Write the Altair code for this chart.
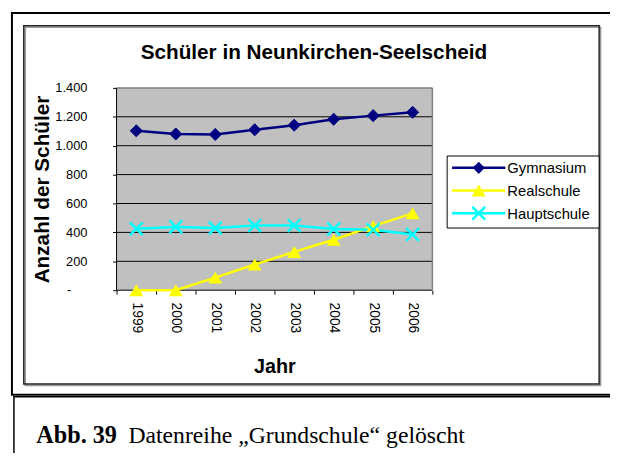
import altair as alt
import pandas as pd

# ---------------- data ----------------
years = ["1999", "2000", "2001", "2002", "2003", "2004", "2005", "2006"]
gymnasium = [1103, 1081, 1078, 1110, 1142, 1183, 1208, 1231]
realschule = [0, 0, 87, 178, 265, 349, 443, 532]
hauptschule = [425, 438, 430, 448, 448, 423, 418, 386]
series_names = ["Gymnasium", "Realschule", "Hauptschule"]
y_ticks = [0, 200, 400, 600, 800, 1000, 1200, 1400]
zero_label = "-"

title_text = "Schüler in Neunkirchen-Seelscheid"
x_title = "Jahr"
y_title = "Anzahl der Schüler"
caption_bold = "Abb. 39"
caption_rest = "Datenreihe „Grundschule“ gelöscht"

# ---------------- styles ----------------
series_colors = ["#000080", "#FFFF00", "#00FFFF"]
X_SHAPE = "M-1,-1L1,1M-1,1L1,-1"
SANS = "Liberation Sans"
SERIF = "Liberation Serif"

rows = []
for name, vals in zip(series_names, [gymnasium, realschule, hauptschule]):
    for yr, v in zip(years, vals):
        rows.append({"Jahr": yr, "Serie": name, "Anzahl": v})
df = pd.DataFrame(rows)
grid_df = pd.DataFrame({"Anzahl": y_ticks[:-1]})
zero_df = pd.DataFrame({"Anzahl": [y_ticks[0]], "t": [zero_label]})

W, H = 320, 205

color_scale = alt.Scale(domain=series_names, range=series_colors)

x_enc = alt.X(
    "Jahr:O",
    bandPosition=0.5,
    scale=alt.Scale(type="band", domain=years, paddingInner=0, paddingOuter=0),
    axis=alt.Axis(
        title=x_title, tickBand="extent", labelAngle=90, labelAlign="left",
        labelBaseline="middle", labelPadding=8, tickSize=4, tickColor="black",
        domain=False, labelFont=SANS, labelFontSize=14, labelColor="black",
        titleFont=SANS, titleFontSize=20, titleFontWeight="bold", titleColor="black",
        titlePadding=24, grid=False, labelOverlap=False,
    ),
)
y_scale = alt.Scale(domain=[0, 1400], nice=False)
y_axis = alt.Axis(
    title=y_title, values=y_ticks,
    labelExpr="datum.value == 0 ? '' : replace(format(datum.value, ',d'), ',', '.')",
    tickSize=4, tickColor="black", domain=False, labelPadding=26,
    labelFont=SANS, labelFontSize=13, labelColor="black",
    titleFont=SANS, titleFontSize=21, titleFontWeight="bold", titleColor="black",
    titlePadding=2, grid=False,
)
y_enc = alt.Y("Anzahl:Q", scale=y_scale, axis=y_axis)

one = pd.DataFrame({"t": [title_text]})

# plot area background and gridlines
plot_bg = alt.Chart(one).mark_rect(color="#C0C0C0").encode(
    x=alt.value(0), x2=alt.value(W), y=alt.value(0), y2=alt.value(H))
grid = alt.Chart(grid_df).mark_rule(color="black", strokeWidth=1).encode(y=y_enc)
top_edge = alt.Chart(one).mark_rule(color="#808080", strokeWidth=1.5).encode(
    x=alt.value(0), x2=alt.value(W), y=alt.value(0))
right_edge = alt.Chart(one).mark_rule(color="#808080", strokeWidth=1.5).encode(
    x=alt.value(W), y=alt.value(0), y2=alt.value(H))
left_edge = alt.Chart(one).mark_rule(color="black", strokeWidth=1).encode(
    x=alt.value(0), y=alt.value(0), y2=alt.value(H))
zero_text = alt.Chart(zero_df).mark_text(
    font=SANS, fontSize=13, color="black", align="center", baseline="middle"
).encode(text="t:N", y=y_enc, x=alt.value(-48))

lines = alt.Chart(df).mark_line(strokeWidth=2.5).encode(
    x=x_enc, y=y_enc,
    color=alt.Color("Serie:N", scale=color_scale, legend=None),
    order=alt.Order("Jahr:O"),
)

def pts(i, **kw):
    return alt.Chart(df).transform_filter(alt.datum.Serie == series_names[i]).mark_point(
        color=series_colors[i], opacity=1, **kw).encode(x=x_enc, y=y_enc)

pts_g = pts(0, shape="diamond", filled=True, size=150, stroke=series_colors[0], strokeWidth=1)
pts_r = pts(1, shape="triangle-up", filled=True, size=196)
pts_h = pts(2, shape=X_SHAPE, filled=False, size=169, strokeWidth=2.5)

# ---------------- legend (drawn) ----------------
leg_box = alt.Chart(one).mark_rect(color="white", stroke="black", strokeWidth=1).encode(
    x=alt.value(335), x2=alt.value(489), y=alt.value(69), y2=alt.value(142))
leg_layers = [leg_box]
row_y = [81, 104, 127]
marker_kw = [
    dict(shape="diamond", filled=True, size=150, strokeWidth=1),
    dict(shape="triangle-up", filled=True, size=196),
    dict(shape=X_SHAPE, filled=False, size=169, strokeWidth=2.5),
]
for i, name in enumerate(series_names):
    d = pd.DataFrame({"t": [name]})
    leg_layers.append(alt.Chart(d).mark_rule(color=series_colors[i], strokeWidth=2.5).encode(
        x=alt.value(340), x2=alt.value(394), y=alt.value(row_y[i])))
    leg_layers.append(alt.Chart(d).mark_point(color=series_colors[i], opacity=1, **marker_kw[i]).encode(
        x=alt.value(367), y=alt.value(row_y[i])))
    leg_layers.append(alt.Chart(d).mark_text(
        font=SANS, fontSize=15, color="black", align="left", baseline="middle").encode(
        text="t:N", x=alt.value(396), y=alt.value(row_y[i] + 0.5)))

# ---------------- frames and texts ----------------
outer = alt.Chart(one).mark_rect(filled=False, color="black", strokeWidth=2).encode(
    x=alt.value(-106), x2=alt.value(520), y=alt.value(-76), y2=alt.value(311))
capbox = alt.Chart(one).mark_rect(filled=False, color="black", strokeWidth=1.5).encode(
    x=alt.value(-104), x2=alt.value(520), y=alt.value(313), y2=alt.value(400))
shadow = alt.Chart(one).mark_rect(filled=False, color="#999999", strokeWidth=1.5).encode(
    x=alt.value(-92.5), x2=alt.value(490.5), y=alt.value(-61.5), y2=alt.value(301.5))
inner = alt.Chart(one).mark_rect(filled=False, color="#222222", strokeWidth=1.5).encode(
    x=alt.value(-94), x2=alt.value(489), y=alt.value(-63), y2=alt.value(300))

title = alt.Chart(one).mark_text(
    font=SANS, fontSize=21, fontWeight="bold", color="black", align="center", baseline="alphabetic"
).encode(text="t:N", x=alt.value(200), y=alt.value(-29.3))

cap1 = alt.Chart(pd.DataFrame({"t": [caption_bold]})).mark_text(
    font=SERIF, fontSize=24.5, fontWeight="bold", color="black", align="left", baseline="alphabetic"
).encode(text="t:N", x=alt.value(-81.3), y=alt.value(360))
cap2 = alt.Chart(pd.DataFrame({"t": [caption_rest]})).mark_text(
    font=SERIF, fontSize=24, fontWeight="normal", color="black", align="left", baseline="alphabetic"
).encode(text="t:N", x=alt.value(12), y=alt.value(360))

chart = alt.layer(
    outer, capbox, shadow, inner, title, cap1, cap2,
    plot_bg, grid, top_edge, right_edge, left_edge, zero_text,
    lines, pts_g, pts_r, pts_h, *leg_layers,
).properties(
    width=W, height=H,
    autosize=alt.AutoSizeParams(type="none"),
    padding={"left": 110, "top": 78, "right": 180, "bottom": 162},
    background="white",
).configure_view(stroke=None)

chart.save("out.html", embed_options={"renderer": "svg", "actions": False})
